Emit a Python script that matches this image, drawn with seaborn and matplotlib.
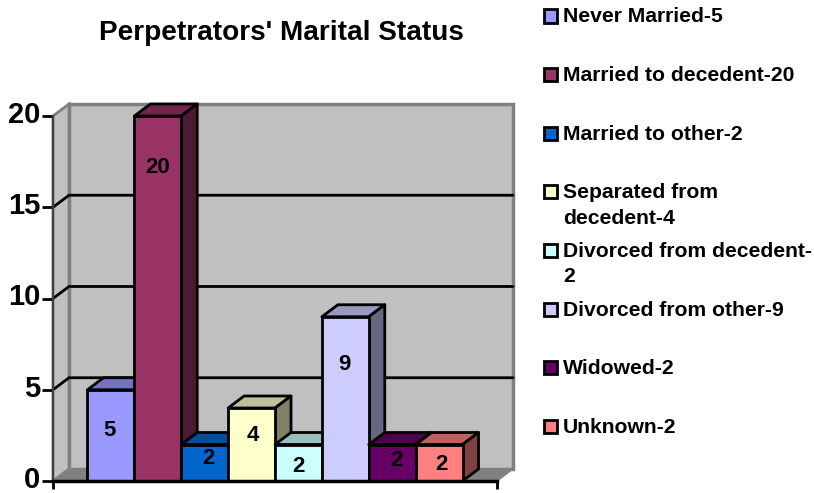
import matplotlib
matplotlib.use('Agg')
import matplotlib.pyplot as plt
import matplotlib.colors as mcolors
from matplotlib.patches import Polygon, Rectangle
from matplotlib.transforms import ScaledTranslation
import seaborn as sns

categories = ['Never Married', 'Married to decedent', 'Married to other', 'Separated from decedent',
              'Divorced from decedent', 'Divorced from other', 'Widowed', 'Unknown']
values = [5, 20, 2, 4, 2, 9, 2, 2]
legend_labels = ['Never Married-5', 'Married to decedent-20', 'Married to other-2',
                 'Separated from\ndecedent-4', 'Divorced from decedent-\n2',
                 'Divorced from other-9', 'Widowed-2', 'Unknown-2']
colors = ['#9999FF', '#993366', '#0066CC', '#FFFFCC', '#CCFFFF', '#CCCCFF', '#660066', '#FF8080']
yticks = [0, 5, 10, 15, 20]

W, H = 814, 493
sns.set_theme(style='white')
plt.rcParams['font.family'] = ['Liberation Sans', 'DejaVu Sans']
plt.rcParams['font.weight'] = 'bold'

fig = plt.figure(figsize=(W / 100, H / 100), dpi=100)
ax = fig.add_axes([53 / W, 1 - 481 / H, 444 / W, 365 / H])

sns.barplot(x=categories, y=values, hue=categories, palette=colors, width=1, dodge=False,
            legend=False, saturation=1, edgecolor='black', linewidth=2, ax=ax)
bars = list(ax.patches)

# bars are 46.9px wide, the rest of the axis is margin
ax.set_xlim(-0.5 - 0.735, 7.5 + 0.735)
ax.set_ylim(0, 20)
x0, x1 = ax.get_xlim()
ax.set_facecolor('none')

# 3d depth, in data units
dx = 16 / (444 / (x1 - x0))
dy = 12 / (365 / 20)

# walls
ax.add_patch(Polygon([(x0 + dx, dy), (x1 + dx, dy), (x1 + dx, 20 + dy), (x0 + dx, 20 + dy)],
                     fc='#C0C0C0', ec='#808080', lw=2.5, clip_on=False, zorder=0.1))
ax.add_patch(Polygon([(x0, 0), (x0 + dx, dy), (x0 + dx, 20 + dy), (x0, 20)],
                     fc='#C0C0C0', ec='#808080', lw=2, clip_on=False, zorder=0.2))
ax.add_patch(Polygon([(x0, 0), (x1, 0), (x1 + dx, dy), (x0 + dx, dy)],
                     fc='#808080', ec='#808080', lw=1, clip_on=False, zorder=0.3))

# gridlines on back wall and slanted bit on side wall
for t in yticks[1:-1]:
    ax.plot([x0, x0 + dx, x1 + dx], [t, t + dy, t + dy], color='black', lw=2,
            clip_on=False, zorder=0.5, solid_joinstyle='miter')

# top and side faces, drawn bar by bar so the next bar covers them
for i, bar in enumerate(bars):
    left = bar.get_x()
    right = left + bar.get_width()
    top = bar.get_height()
    rgb = mcolors.to_rgb(bar.get_facecolor())
    top_col = tuple(c * 0.75 for c in rgb)
    side_col = tuple(c * 0.5 for c in rgb)
    z = 2 + i
    ax.add_patch(Polygon([(left, top), (right, top), (right + dx, top + dy), (left + dx, top + dy)],
                         fc=top_col, ec='black', lw=2, clip_on=False, zorder=z, joinstyle='round'))
    ax.add_patch(Polygon([(right, 0), (right + dx, dy), (right + dx, top + dy), (right, top)],
                         fc=side_col, ec='black', lw=2, clip_on=False, zorder=z, joinstyle='round'))
    bar.set_zorder(z + 0.5)
    bar.set_clip_on(False)

# data labels, excel leaves them off centre
label_x_shift = [-0.02, 0, 0.08, 0.02, 0, -0.02, 0.1, 0.06]
label_y = [2.74, 17.2, 1.26, 2.5, 0.82, 6.4, 1.1, 0.93]
for i, bar in enumerate(bars):
    cx = bar.get_x() + bar.get_width() / 2
    ax.text(cx + label_x_shift[i], label_y[i], str(values[i]), ha='center', va='center',
            fontsize=16, fontweight='bold', color='black', zorder=20)

ax.set_yticks(yticks)
ax.set_xticks([x0, x1])
ax.set_xticklabels([])
ax.tick_params(axis='y', length=8, width=2, color='black', pad=1, labelsize=21, left=True, labelcolor='black')
ax.tick_params(axis='x', length=6, width=2, color='black', bottom=True)
# tick labels sit a bit higher than centre, keeps the 0 inside the figure
nudge = ScaledTranslation(0, 4 / 100, fig.dpi_scale_trans)
for lab in ax.get_yticklabels():
    lab.set_fontweight('bold')
    lab.set_transform(lab.get_transform() + nudge)
for name, sp in ax.spines.items():
    sp.set_visible(name in ('left', 'bottom'))
    sp.set_color('black')
    sp.set_zorder(15)
ax.spines['bottom'].set_linewidth(2.5)
ax.spines['left'].set_linewidth(1.5)
ax.spines['left'].set_color('#404040')

fig.text(281.5 / W, 1 - 33.5 / H, "Perpetrators' Marital Status", ha='center', va='center',
         fontsize=20.1, fontweight='bold', color='black')

# legend, fixed pitch like excel
for i, (lab, col) in enumerate(zip(legend_labels, colors)):
    yc = 16 + i * 58.6
    fig.add_artist(Rectangle((544 / W, 1 - (yc + 6.5) / H), 12.5 / W, 13 / H, transform=fig.transFigure,
                             fc=col, ec='black', lw=2))
    fig.text(563 / W, 1 - (yc - 8.5) / H, lab, ha='left', va='top', fontsize=15.2, fontweight='bold',
             color='black', linespacing=1.42)

fig.savefig('out.png', dpi=100)
